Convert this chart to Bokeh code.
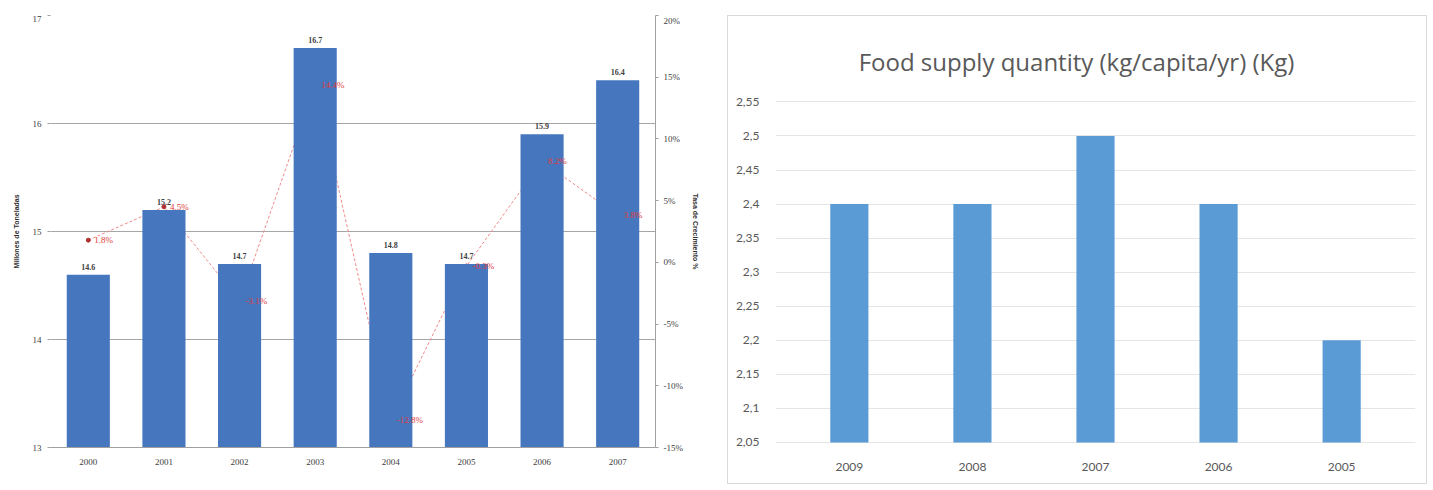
from bokeh.plotting import figure
from bokeh.models import (FactorRange, Range1d, LinearAxis, FixedTicker, PrintfTickFormatter,
                          CustomJSTickFormatter, ColumnDataSource, Label)
from bokeh.layouts import row
from bokeh.core.properties import value
from bokeh.embed import file_html
from bokeh.resources import INLINE

# ---------------- data: left chart ----------------
years = ["2000", "2001", "2002", "2003", "2004", "2005", "2006", "2007"]
consumo = [14.6, 15.2, 14.7, 16.7, 14.8, 14.7, 15.9, 16.4]
crecimiento = [1.8, 4.5, -3.1, 14.4, -12.8, -0.3, 8.2, 3.8]
left_ticks = [13, 14, 15, 16, 17]
right_ticks = [-15, -10, -5, 0, 5, 10, 15, 20]
legend_labels = ["Consumo Mundial", "Crecimiento Anual"]

# ---------------- data: right chart ----------------
years2 = ["2009", "2008", "2007", "2006", "2005"]
supply = [2.4, 2.4, 2.5, 2.4, 2.2]
supply_ticks = [2.05, 2.1, 2.15, 2.2, 2.25, 2.3, 2.35, 2.4, 2.45, 2.5, 2.55]
supply_title = "Food supply quantity (kg/capita/yr) (Kg)"

SERIF = "Liberation Serif"
SANS = "Liberation Sans"

# ================= left figure =================
src = ColumnDataSource(dict(
    x=years, c=consumo, g=crecimiento,
    cl=[f"{v:.1f}" for v in consumo],
    gl=[f"{v:.1f}%" for v in crecimiento],
))

p1 = figure(x_range=FactorRange(*years, range_padding=0), y_range=Range1d(13, 17),
            frame_width=605, frame_height=432,
            min_border_left=50, min_border_right=65, min_border_top=0, min_border_bottom=43,
            output_backend="svg", toolbar_location=None)
p1.margin = (15, 0, 0, 0)
p1.extra_y_ranges = {"pct": Range1d(-15, 20)}

# growth line drawn first (behind bars)
ln = p1.line("x", "g", source=src, y_range_name="pct", line_color="#f08a8a",
             line_width=1, line_dash="3 2")
mk = p1.scatter("x", "g", source=src, y_range_name="pct", size=4,
                fill_color="#b03030", line_color="#b03030")
bars = p1.vbar(x="x", top="c", bottom=13, width=0.57, source=src,
               fill_color="#4677BE", line_color=None)

p1.text(x="x", y="c", text="cl", source=src, y_offset=-5, text_align="center",
        text_baseline="bottom", text_font=value(SERIF), text_font_size="8px",
        text_color="#404040", text_font_style="bold")
p1.text(x="x", y="g", text="gl", source=src, y_range_name="pct", x_offset=6,
        text_align="left", text_baseline="middle", text_font=value(SERIF),
        text_font_size="9px", text_color="#e03a3a")

p1.yaxis.ticker = FixedTicker(ticks=left_ticks)
p1.yaxis.axis_label = "Millones de Toneladas"
p1.yaxis.axis_label_text_font = SANS
p1.yaxis.axis_label_text_font_size = "7px"
p1.yaxis.axis_label_text_font_style = "bold"
p1.yaxis.axis_label_text_color = "#303030"
p1.yaxis.axis_label_standoff = 10
p1.yaxis.major_label_text_font = SERIF
p1.yaxis.major_label_text_font_size = "9px"
p1.yaxis.major_label_text_color = "#404040"
p1.yaxis.axis_line_color = None
p1.yaxis.major_tick_line_color = "#a0a0a0"
p1.yaxis.major_tick_out = 3
p1.yaxis.major_tick_in = 0
p1.yaxis.minor_tick_line_color = None
p1.yaxis.major_label_standoff = 6

ax_r = LinearAxis(y_range_name="pct", ticker=FixedTicker(ticks=right_ticks),
                  formatter=PrintfTickFormatter(format="%d%%"))
ax_r.axis_label = "Tasa de Crecimiento %"
ax_r.axis_label_text_font = SANS
ax_r.axis_label_text_font_size = "7px"
ax_r.axis_label_text_font_style = "bold"
ax_r.axis_label_text_color = "#303030"
ax_r.axis_label_standoff = 6
ax_r.major_label_text_font = SERIF
ax_r.major_label_text_font_size = "9px"
ax_r.major_label_text_color = "#404040"
ax_r.axis_line_color = "#a0a0a0"
ax_r.major_tick_line_color = "#a0a0a0"
ax_r.major_tick_out = 3
ax_r.major_tick_in = 0
ax_r.minor_tick_line_color = None
ax_r.major_label_standoff = 5
p1.add_layout(ax_r, "right")

p1.xaxis.major_label_text_font = SERIF
p1.xaxis.major_label_text_font_size = "9px"
p1.xaxis.major_label_text_color = "#404040"
p1.xaxis.axis_line_color = "#a0a0a0"
p1.xaxis.major_tick_line_color = None
p1.xaxis.major_tick_out = 0
p1.xaxis.major_tick_in = 0
p1.xaxis.major_label_standoff = 11
p1.xaxis.axis_label_standoff = 0

p1.xgrid.grid_line_color = None
p1.ygrid.grid_line_color = "#a6a6a6"
p1.ygrid.grid_line_width = 1
p1.outline_line_color = None

# legend drawn as canvas-positioned labels below the x axis
for lx, txt, col, fnt in [(222, "\u2588" * 7, "#4677BE", "DejaVu Sans"),
                          (262, legend_labels[0], "#404040", SANS),
                          (320, "\u254c\u254c\u25cf\u254c\u254c", "#e06060", "DejaVu Sans"),
                          (345, legend_labels[1], "#404040", SANS)]:
    p1.add_layout(Label(x=lx, y=467, x_units="canvas", y_units="canvas", text=txt,
                        text_align="left", text_baseline="middle", text_font=fnt,
                        text_font_size="8px", text_color=col))

# ================= right figure =================
# y range extended above 2.55 so the title sits inside the panel
src2 = ColumnDataSource(dict(x=years2, v=supply))
p2 = figure(x_range=FactorRange(*years2, range_padding=0.04),
            y_range=Range1d(2.0382, 2.6754),
            frame_width=638, frame_height=432,
            min_border_left=47, min_border_right=13, min_border_top=0, min_border_bottom=35,
            output_backend="svg", toolbar_location=None)
p2.margin = (15, 0, 0, 7)
p2.styles = {"border": "1px solid #d9d9d9"}
p2.vbar(x="x", top="v", bottom=2.05, width=0.31, source=src2,
        fill_color="#5B9BD5", line_color=None)

p2.add_layout(Label(x=347, y=44, x_units="canvas", y_units="canvas", text=supply_title,
                    text_align="center", text_baseline="middle", text_font="Open Sans",
                    text_font_size="24px", text_color="#595959"))

p2.yaxis.ticker = FixedTicker(ticks=supply_ticks)
p2.yaxis.formatter = CustomJSTickFormatter(
    code="return parseFloat(tick.toFixed(2)).toString().replace('.', ',');")
p2.yaxis.major_label_text_font = "Lato"
p2.yaxis.major_label_text_font_size = "12px"
p2.yaxis.major_label_text_color = "#595959"
p2.yaxis.axis_line_color = None
p2.yaxis.major_tick_line_color = None
p2.yaxis.minor_tick_line_color = None
p2.yaxis.major_label_standoff = 10

p2.xaxis.major_label_text_font = "Lato"
p2.xaxis.major_label_text_font_size = "12px"
p2.xaxis.major_label_text_color = "#595959"
p2.xaxis.axis_line_color = None
p2.xaxis.major_tick_line_color = None
p2.xaxis.major_label_standoff = 6

p2.xgrid.grid_line_color = None
p2.ygrid.grid_line_color = "#e5e5e5"
p2.outline_line_color = None

layout = row(p1, p2)
open("out.html", "w").write(file_html(layout, INLINE))
